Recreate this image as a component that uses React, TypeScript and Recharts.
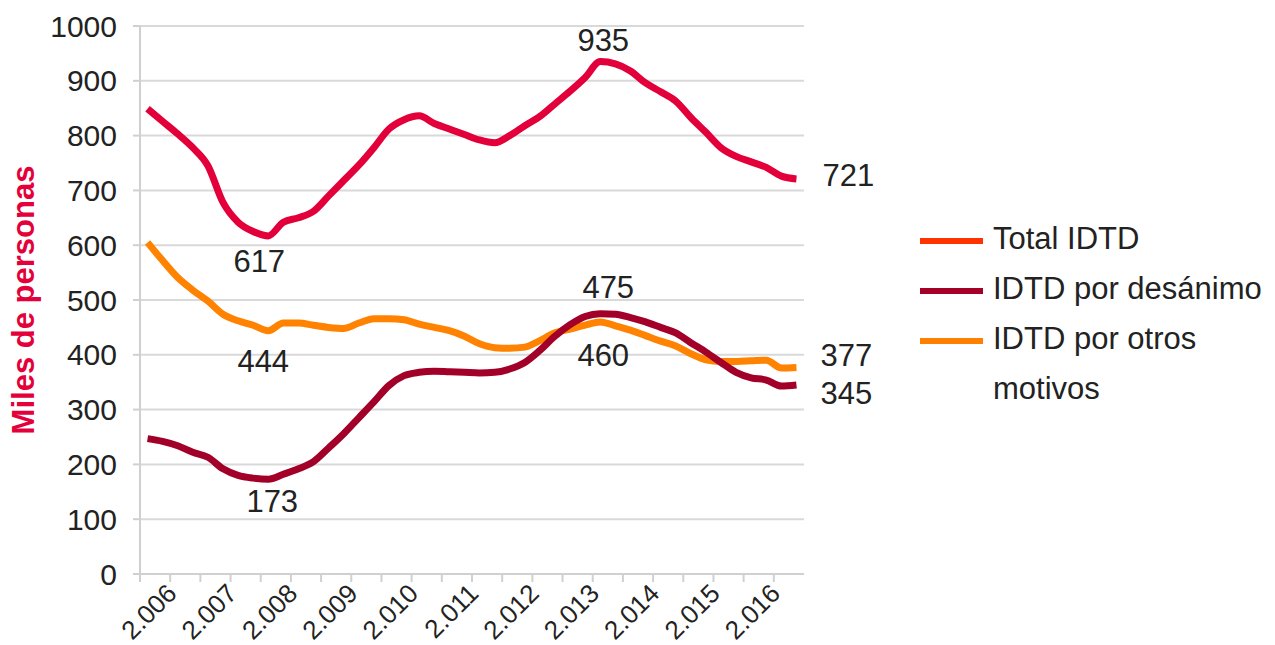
import React from 'react';
import { LineChart, Line, XAxis, YAxis, CartesianGrid, Label } from 'recharts';

const FONT = '"Liberation Sans", Arial, Helvetica, sans-serif';

// Quarterly periods (categories)
const periods = [
  '2005-T3', '2005-T4',
  '2006-T1', '2006-T2', '2006-T3', '2006-T4',
  '2007-T1', '2007-T2', '2007-T3', '2007-T4',
  '2008-T1', '2008-T2', '2008-T3', '2008-T4',
  '2009-T1', '2009-T2', '2009-T3', '2009-T4',
  '2010-T1', '2010-T2', '2010-T3', '2010-T4',
  '2011-T1', '2011-T2', '2011-T3', '2011-T4',
  '2012-T1', '2012-T2', '2012-T3', '2012-T4',
  '2013-T1', '2013-T2', '2013-T3', '2013-T4',
  '2014-T1', '2014-T2', '2014-T3', '2014-T4',
  '2015-T1', '2015-T2', '2015-T3', '2015-T4',
  '2016-T1', '2016-T2',
];

const totalIDTD = [
  849, 826, 803, 778, 745, 678, 642, 625, 617, 642,
  650, 662, 690, 718, 746, 778, 812, 829, 836, 822,
  812, 802, 792, 787, 800, 818, 835, 858, 881, 906,
  935, 931, 918, 896, 880, 863, 833, 806, 778, 762,
  752, 742, 726, 721,
];

const desanimo = [
  247, 242, 234, 222, 213, 192, 180, 175, 173, 182,
  192, 205, 230, 256, 285, 314, 344, 362, 368, 370,
  369, 368, 367, 368, 374, 386, 408, 434, 455, 470,
  475, 474, 468, 460, 450, 440, 422, 405, 386, 368,
  358, 354, 343, 345,
];

const otrosMotivos = [
  605, 572, 541, 518, 498, 474, 462, 454, 444, 458,
  458, 454, 450, 448, 458, 466, 466, 464, 456, 450,
  444, 434, 420, 413, 412, 414, 426, 440, 447, 454,
  460, 453, 445, 435, 425, 416, 402, 391, 388, 388,
  389, 390, 376, 377,
];

const yearLabels = ['2.006', '2.007', '2.008', '2.009', '2.010', '2.011', '2.012', '2.013', '2.014', '2.015', '2.016'];
const yTicks = [0, 100, 200, 300, 400, 500, 600, 700, 800, 900, 1000];

const data = periods.map((p, i) => ({
  periodo: p,
  x: i,
  total: totalIDTD[i],
  desanimo: desanimo[i],
  otros: otrosMotivos[i],
}));

// tick marks every two quarters (category boundaries), year labels every four
const xTicks = Array.from({ length: 22 }, (_, k) => -0.5 + 2 * k);

const COLORS = {
  total: '#e3003a',
  desanimo: '#a20029',
  otros: '#ff8200',
};

const legendItems = [
  { name: 'Total IDTD', swatch: '#ff3300' },
  { name: 'IDTD por desánimo', swatch: '#a50028' },
  { name: 'IDTD por otros motivos', swatch: '#ff8000' },
];

// data-label placement (index -> [dx, dy, anchor])
type LabelCfg = Record<number, [number, number, 'middle' | 'start']>;
const totalLabelCfg: LabelCfg = { 8: [-9, 36, 'middle'], 30: [3, -11, 'middle'], 43: [26, 7, 'start'] };
const desanimoLabelCfg: LabelCfg = { 8: [4, 33, 'middle'], 30: [8, -16, 'middle'], 43: [24, 19, 'start'] };
const otrosLabelCfg: LabelCfg = { 8: [-5, 41, 'middle'], 30: [3, 44, 'middle'], 43: [24, -1, 'start'] };

const makeDot = (cfg: LabelCfg) => (props: any) => {
  const { cx, cy, index, value } = props;
  const c = cfg[index];
  if (!c || cx == null || cy == null) return <g key={`d-${index}`} />;
  const v = Array.isArray(value) ? value[1] : value;
  return (
    <text
      key={`d-${index}`}
      x={cx + c[0]}
      y={cy + c[1]}
      textAnchor={c[2]}
      fontSize={31}
      fontFamily={FONT}
      fill="#222"
    >
      {v}
    </text>
  );
};

const XTick = (props: any) => {
  const { x, y, payload } = props;
  const v = payload.value;
  const k = (v - 1.5) / 4;
  if (k < 0 || Math.abs(k - Math.round(k)) > 1e-6) return <g />;
  const label = yearLabels[Math.round(k)];
  if (!label) return <g />;
  const tx = x + 8;
  const ty = y + 11;
  return (
    <text
      x={tx}
      y={ty}
      transform={`rotate(-45, ${tx}, ${ty})`}
      textAnchor="end"
      fontSize={26}
      fontFamily={FONT}
      fill="#222"
    >
      {label}
    </text>
  );
};

const LegendBox = () => (
  <div style={{ position: 'absolute', left: 920, top: 214, width: 355, fontFamily: FONT, fontSize: 31, color: '#222' }}>
    {legendItems.map((it) => (
      <div key={it.name} style={{ display: 'flex', alignItems: 'flex-start' }}>
        <div style={{ width: 63, height: 6, background: it.swatch, marginTop: 24, marginRight: 10, flexShrink: 0 }} />
        <div style={{ width: 285, lineHeight: '50px' }}>{it.name}</div>
      </div>
    ))}
  </div>
);

export default function App() {
  return (
    <div style={{ position: 'absolute', left: 0, top: 0, width: 1275, height: 645, background: '#fff' }}>
      <LineChart
        width={1275}
        height={645}
        data={data}
        margin={{ top: 26, right: 471, bottom: 0, left: 0 }}
      >
        <CartesianGrid vertical={false} stroke="#d9d9d9" strokeWidth={2} />
        <XAxis
          dataKey="x"
          type="number"
          domain={[-0.5, 43.5]}
          ticks={xTicks}
          interval={0}
          tick={<XTick />}
          tickSize={8}
          tickMargin={2}
          height={71}
          axisLine={{ stroke: '#d0d0d0', strokeWidth: 2 }}
          tickLine={{ stroke: '#d0d0d0', strokeWidth: 2 }}
        />
        <YAxis
          type="number"
          domain={[0, 1000]}
          ticks={yTicks}
          interval={0}
          width={140}
          tickSize={7}
          tickMargin={16}
          axisLine={{ stroke: '#d0d0d0', strokeWidth: 2 }}
          tickLine={{ stroke: '#d0d0d0', strokeWidth: 2 }}
          tick={{ fill: '#222', fontSize: 30, fontFamily: FONT }}
        >
          <Label
            content={() => (
              <text
                x={23}
                y={300}
                transform="rotate(-90, 23, 300)"
                textAnchor="middle"
                dominantBaseline="central"
                fontSize={31}
                fontWeight="bold"
                fontFamily={FONT}
                fill="#e4003a"
              >
                Miles de personas
              </text>
            )}
          />
        </YAxis>
        <Line
          name="Total IDTD"
          dataKey="total"
          type="monotone"
          stroke={COLORS.total}
          strokeWidth={7}
          dot={makeDot(totalLabelCfg)}
          activeDot={false}
          isAnimationActive={false}
        />
        <Line
          name="IDTD por otros motivos"
          dataKey="otros"
          type="monotone"
          stroke={COLORS.otros}
          strokeWidth={7}
          dot={makeDot(otrosLabelCfg)}
          activeDot={false}
          isAnimationActive={false}
        />
        <Line
          name="IDTD por desánimo"
          dataKey="desanimo"
          type="monotone"
          stroke={COLORS.desanimo}
          strokeWidth={7}
          dot={makeDot(desanimoLabelCfg)}
          activeDot={false}
          isAnimationActive={false}
        />
      </LineChart>
      <LegendBox />
    </div>
  );
}
